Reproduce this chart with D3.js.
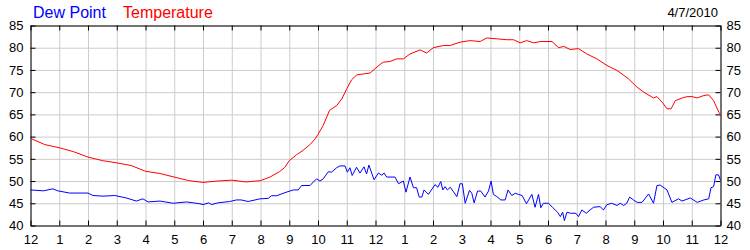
<!DOCTYPE html>
<html>
<head>
<meta charset="utf-8">
<script src="https://cdn.jsdelivr.net/npm/d3@7"></script>
<style>
  body { margin: 0; background: #fff; }
  svg { display: block; font-family: "Liberation Sans", Arial, sans-serif; }
  .grid line { stroke: #cccccc; }
  .grid path { display: none; }
  .axis path, .axis line { stroke: #000; }
  .axis text { fill: #000; font-size: 13px; }
</style>
</head>
<body>
<svg width="750" height="250"></svg>
<script>
// hour ticks, 12 midnight to 12 midnight
let hourTicks = d3.range(0, 25);
let hourLabels = [12, 1, 2, 3, 4, 5, 6, 7, 8, 9, 10, 11, 12, 1, 2, 3, 4, 5, 6, 7, 8, 9, 10, 11, 12];
let tempTicks = [40, 45, 50, 55, 60, 65, 70, 75, 80, 85];

// temperature readings (hour of day, deg F)
let tempHours = [0, 0.5, 1, 1.5, 2, 2.5, 3, 3.5, 4, 4.5, 5, 5.5, 6, 6.5, 7, 7.5, 8, 8.33, 8.67, 8.85,
  9, 9.25, 9.48, 9.72, 9.9, 10, 10.18, 10.4, 10.65, 10.83, 11, 11.17, 11.35, 11.58, 11.81, 11.98,
  12.15, 12.27, 12.5, 12.74, 12.97, 13.2, 13.55, 13.78, 14.01, 14.36, 14.6, 14.94, 15.29, 15.64,
  15.87, 16.22, 16.57, 16.8, 17.03, 17.26, 17.5, 17.73, 18.14, 18.37, 18.55, 18.77, 19.06, 19.35,
  19.7, 20.05, 20.4, 20.8, 21.1, 21.33, 21.67, 21.79, 21.97, 22.14, 22.28, 22.43, 22.67, 22.84,
  23.01, 23.19, 23.42, 23.59, 23.76, 23.94, 24];
let tempValues = [59.6, 58.2, 57.5, 56.6, 55.4, 54.6, 54.1, 53.5, 52.2, 51.7, 50.9, 50.1, 49.7, 50.0, 50.2, 49.8, 50.1, 50.9, 52.15, 53.1,
  54.6, 55.9, 56.9, 58.2, 59.5, 60.5, 62.5, 65.9, 67.0, 68.5, 70.75, 72.8, 73.9, 74.1, 74.3, 75.25,
  76.2, 76.75, 76.9, 77.5, 77.5, 78.6, 79.5, 78.8, 80.0, 80.5, 80.5, 81.25, 81.6, 81.4,
  82.2, 82.0, 81.8, 81.8, 81.1, 81.6, 81.1, 81.4, 81.4, 80.0, 80.3, 79.6, 79.8, 78.6,
  77.5, 76.0, 74.9, 73.0, 71.1, 70.0, 68.7, 69.0, 67.75, 66.25, 66.25, 68.1, 68.7, 69.0,
  69.0, 68.7, 69.25, 69.4, 68.1, 65.5, 65.0];

// dew point readings (hour of day, deg F)
let dewHours = [0, 0.45, 0.78, 0.95, 1.36, 2, 2.17, 2.52, 2.93, 3.33, 3.68, 3.91, 4.09, 4.5, 4.96, 5.42,
  5.89, 6, 6.2, 6.3, 6.52, 6.93, 7.16, 7.33, 7.57, 7.98, 8.27, 8.38, 8.56, 8.9, 9.14, 9.31, 9.43,
  9.72, 9.95, 10.07, 10.18, 10.36, 10.47, 10.65, 10.76, 10.94, 11.02, 11.11, 11.19, 11.34, 11.46,
  11.6, 11.69, 11.77, 11.95, 12.1, 12.22, 12.3, 12.39, 12.68, 12.8, 12.97, 13.06, 13.2, 13.32,
  13.43, 13.52, 13.61, 13.69, 13.84, 14.07, 14.17, 14.27, 14.34, 14.42, 14.5, 14.6, 14.83, 14.94,
  15.02, 15.12, 15.27, 15.35, 15.43, 15.55, 15.66, 15.81, 15.93, 16.02, 16.1, 16.22, 16.36, 16.51,
  16.61, 16.74, 16.86, 16.97, 17.1, 17.25, 17.44, 17.55, 17.67, 17.75, 17.84, 18.02, 18.17, 18.33,
  18.43, 18.51, 18.57, 18.66, 18.78, 18.97, 19.06, 19.18, 19.33, 19.58, 19.81, 19.93, 20.05, 20.22,
  20.4, 20.51, 20.63, 20.74, 20.84, 20.97, 21.1, 21.27, 21.5, 21.67, 21.79, 21.9, 22.14, 22.31,
  22.54, 22.66, 22.95, 23.19, 23.42, 23.59, 23.67, 23.76, 23.84, 23.93, 24];
let dewValues = [48.0, 47.8, 48.25, 47.8, 47.3, 47.3, 46.75, 46.6, 46.75, 46.2, 45.5, 46.0, 45.3, 45.5, 45.0, 45.3,
  44.9, 44.7, 45.1, 44.7, 45.1, 45.4, 45.75, 45.75, 45.4, 46.0, 46.1, 46.7, 46.7, 47.5, 48.0, 48.0, 49.0,
  49.0, 50.5, 50.0, 50.5, 52.1, 52.0, 53.0, 53.4, 53.4, 52.0, 53.0, 51.25, 53.1, 51.8,
  53.2, 51.6, 53.6, 50.3, 51.8, 51.3, 51.8, 50.9, 50.9, 49.4, 50.0, 47.5, 50.9, 48.5,
  48.5, 46.4, 46.4, 48.0, 47.0, 49.2, 48.6, 49.9, 48.0, 48.75, 48.0, 48.6, 46.5, 49.4,
  49.4, 45.0, 47.9, 47.25, 45.1, 47.75, 47.75, 46.4, 47.75, 50.0, 47.0, 46.5, 45.75, 45.75,
  48.0, 46.75, 47.25, 47.0, 46.75, 44.9, 47.0, 44.1, 47.0, 44.0, 45.0, 45.0, 44.0, 43.0,
  42.0, 43.0, 41.1, 43.0, 42.75, 42.75, 42.0, 43.5, 42.75, 44.1, 44.25, 43.5, 44.7, 45.0,
  44.5, 45.0, 44.5, 45.0, 46.4, 45.75, 45.2, 45.2, 47.1, 45.0, 49.0, 49.1, 48.0, 45.2,
  46.0, 45.5, 46.2, 45.2, 45.75, 46.0, 48.5, 48.75, 51.4, 51.4, 50.2];

let plotLeft = 30.5, plotRight = 720.5, plotTop = 25.5, plotBottom = 225.5;

let svg = d3.select('svg');

let x = d3.scaleLinear().domain([0, 24]).range([plotLeft, plotRight]);
let y = d3.scaleLinear().domain([40, 85]).range([plotBottom, plotTop]);

// grid
svg.append('g')
    .attr('class', 'grid')
    .attr('transform', `translate(0 ${plotBottom})`)
    .call(d3.axisBottom(x).tickValues(hourTicks).tickSize(-(plotBottom - plotTop)).tickFormat(''));
svg.append('g')
    .attr('class', 'grid')
    .attr('transform', `translate(${plotLeft} 0)`)
    .call(d3.axisLeft(y).tickValues(tempTicks).tickSize(-(plotRight - plotLeft)).tickFormat(''));

// axes, ticks inside
svg.append('g')
    .attr('class', 'axis')
    .attr('transform', `translate(0 ${plotBottom})`)
    .call(d3.axisBottom(x).tickValues(hourTicks).tickSizeInner(-5).tickSizeOuter(0).tickPadding(9)
        .tickFormat((d, i) => hourLabels[i]));
svg.append('g')
    .attr('class', 'axis')
    .attr('transform', `translate(0 ${plotTop})`)
    .call(d3.axisTop(x).tickValues(hourTicks).tickSizeInner(-5).tickSizeOuter(0).tickFormat(''));
svg.append('g')
    .attr('class', 'axis')
    .attr('transform', `translate(${plotLeft} 0)`)
    .call(d3.axisLeft(y).tickValues(tempTicks).tickSizeInner(-5).tickSizeOuter(0).tickPadding(7));
svg.append('g')
    .attr('class', 'axis')
    .attr('transform', `translate(${plotRight} 0)`)
    .call(d3.axisRight(y).tickValues(tempTicks).tickSizeInner(-5).tickSizeOuter(0).tickPadding(6));

let line = d3.line()
    .x(d => x(d[0]))
    .y(d => y(d[1]));

svg.append('path')
    .datum(d3.zip(tempHours, tempValues))
    .attr('fill', 'none')
    .attr('stroke', '#ff0000')
    .attr('stroke-width', 1)
    .attr('d', line);

svg.append('path')
    .datum(d3.zip(dewHours, dewValues))
    .attr('fill', 'none')
    .attr('stroke', '#0000ff')
    .attr('stroke-width', 1)
    .attr('d', line);

// legend and date
svg.append('text').attr('x', 33).attr('y', 18).attr('fill', '#0000ff').style('font-size', '16px').text('Dew Point');
svg.append('text').attr('x', 123).attr('y', 18).attr('fill', '#ff0000').style('font-size', '16px').text('Temperature');
svg.append('text').attr('x', 718).attr('y', 17).attr('text-anchor', 'end').attr('fill', '#000').style('font-size', '13px').text('4/7/2010');
</script>
</body>
</html>
